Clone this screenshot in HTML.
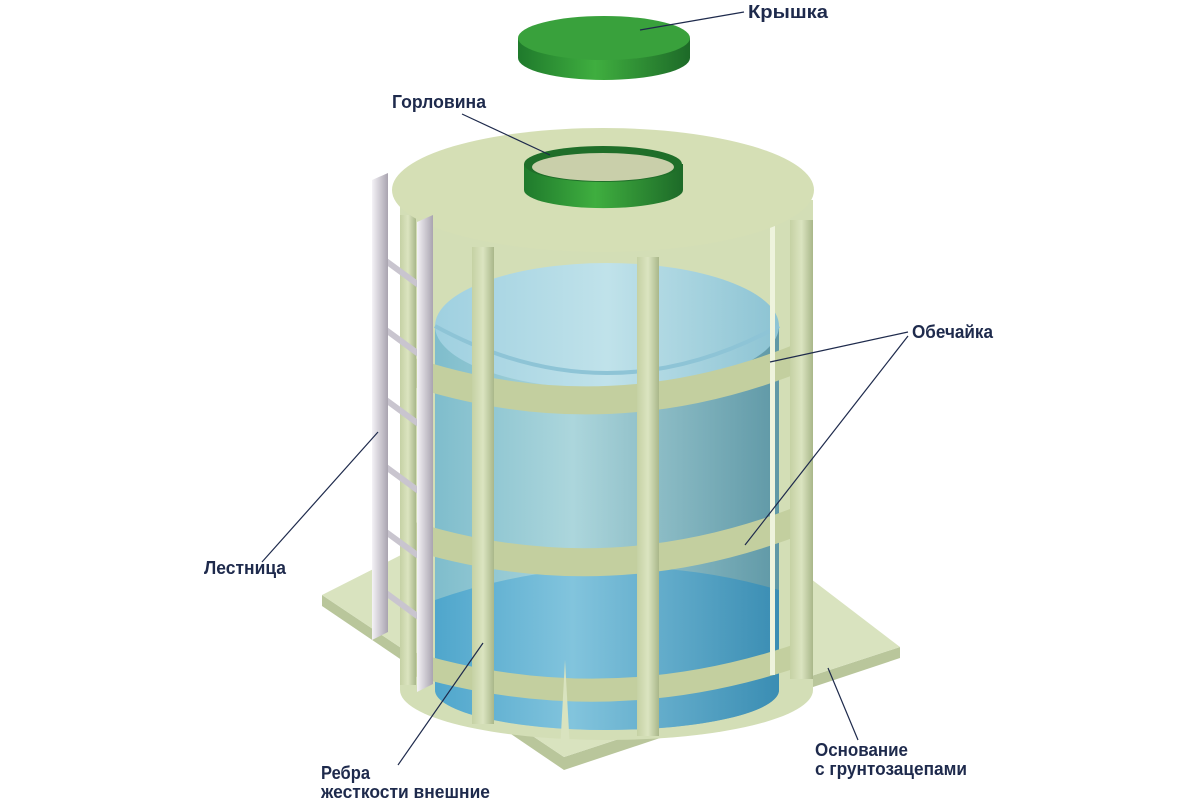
<!DOCTYPE html>
<html><head><meta charset="utf-8"><style>
html,body{margin:0;padding:0;background:#fff}
svg{display:block}
text{font-family:"Liberation Sans",sans-serif;font-size:18px;font-weight:bold;fill:#1e2a4c}
</style></head><body>
<svg width="1200" height="800" viewBox="0 0 1200 800" xmlns="http://www.w3.org/2000/svg">
<defs>
<linearGradient id="w1" x1="0" x2="1"><stop offset="0" stop-color="#7fbdcc"/><stop offset=".4" stop-color="#acd6dc"/><stop offset="1" stop-color="#5f98a6"/></linearGradient>
<linearGradient id="w2" x1="0" x2="1"><stop offset="0" stop-color="#4fa6cc"/><stop offset=".4" stop-color="#82c4dd"/><stop offset="1" stop-color="#3a8db3"/></linearGradient>
<linearGradient id="wt" x1="0" x2="1"><stop offset="0" stop-color="#9fd0e0"/><stop offset=".5" stop-color="#c0e2ea"/><stop offset="1" stop-color="#8cc3d3"/></linearGradient>
<linearGradient id="g1" x1="0" x2="1"><stop offset="0" stop-color="#1f7a2c"/><stop offset=".45" stop-color="#3fae3f"/><stop offset="1" stop-color="#1d6a28"/></linearGradient>
<linearGradient id="rail" x1="0" x2="1"><stop offset="0" stop-color="#f4f2f6"/><stop offset="1" stop-color="#a9a4b0"/></linearGradient>
<linearGradient id="rib" x1="0" x2="1"><stop offset="0" stop-color="#c5d1a4"/><stop offset=".5" stop-color="#dbe4c0"/><stop offset="1" stop-color="#a9b78a"/></linearGradient>
<clipPath id="sh"><path d="M400,200 L400,690 A206.5,50 0 0 0 813,690 L813,200Z"/></clipPath>
<clipPath id="wc"><path d="M435,326 L435,690 A172,40 0 0 0 779,690 L779,326Z"/></clipPath>
</defs>
<polygon points="322,595 564,757 900,647 900,658 564,770 322,606" fill="#b9c69b"/>
<polygon points="322,595 470,520 760,540 900,647 564,757" fill="#d9e3bf"/>
<path d="M400,200 L400,690 A206.5,50 0 0 0 813,690 L813,200Z" fill="#d3deb6"/>
<g clip-path="url(#wc)">
<rect x="435" y="300" width="344" height="440" fill="url(#w1)"/>
<path d="M435,600 Q607,540 779,590 L779,760 L435,760Z" fill="url(#w2)"/>
</g>
<ellipse cx="607" cy="326" rx="172" ry="63" fill="url(#wt)"/>
<path d="M435,326 Q607,420 779,326" fill="none" stroke="#8ec4d6" stroke-width="4"/>
<g clip-path="url(#sh)">
<path d="M400,368 Q607,440 813,352" fill="none" stroke="#c3cf9f" stroke-width="28"/>
<path d="M400,532 Q607,600 813,515" fill="none" stroke="#c3cf9f" stroke-width="28"/>
<path d="M400,660 Q607,725 813,650" fill="none" stroke="#c3cf9f" stroke-width="23"/>
</g>
<rect x="400" y="215" width="16" height="470" fill="url(#rib)"/>
<rect x="770" y="225" width="5" height="450" fill="#eef3dd"/>
<rect x="790" y="220" width="23" height="459" fill="url(#rib)"/>
<rect x="472" y="247" width="22" height="477" fill="url(#rib)"/>
<rect x="637" y="257" width="22" height="479" fill="url(#rib)"/>
<path d="M565,660 L570,750 L560,752Z" fill="#d9e3bf"/>
<ellipse cx="603" cy="190" rx="211" ry="62" fill="#d5dfb5"/>
<path d="M524,164 L524,190 A79,18 0 0 0 683,190 L683,164Z" fill="url(#g1)"/>
<ellipse cx="603" cy="164" rx="79" ry="18" fill="#1f6e29"/>
<ellipse cx="603" cy="167" rx="71" ry="14" fill="#c9cfaa"/>
<path d="M518,38 L518,58 A86,22 0 0 0 690,58 L690,38Z" fill="url(#g1)"/>
<ellipse cx="604" cy="38" rx="86" ry="22" fill="#39a13c"/>
<g stroke="#c9c5cf" stroke-width="6" stroke-linecap="round">
<line x1="386" y1="261" x2="420" y2="286"/><line x1="386" y1="330" x2="420" y2="355"/>
<line x1="386" y1="400" x2="420" y2="425"/><line x1="386" y1="467" x2="420" y2="492"/>
<line x1="386" y1="532" x2="420" y2="557"/><line x1="386" y1="593" x2="420" y2="618"/>
</g>
<polygon points="372,180 388,173 388,632 372,640" fill="url(#rail)"/>
<polygon points="417,222 433,215 433,684 417,692" fill="url(#rail)"/>
<g stroke="#1e2a4c" stroke-width="1.2">
<line x1="744" y1="12" x2="640" y2="30"/>
<line x1="462" y1="114" x2="550" y2="155"/>
<line x1="908" y1="332" x2="770" y2="362"/>
<line x1="908" y1="336" x2="745" y2="545"/>
<line x1="262" y1="562" x2="378" y2="432"/>
<line x1="398" y1="765" x2="483" y2="643"/>
<line x1="858" y1="740" x2="828" y2="668"/>
</g>
<g lengthAdjust="spacingAndGlyphs">
<text x="748" y="18" textLength="80" lengthAdjust="spacingAndGlyphs">Крышка</text>
<text x="392" y="108" textLength="94" lengthAdjust="spacingAndGlyphs">Горловина</text>
<text x="912" y="338" textLength="81" lengthAdjust="spacingAndGlyphs">Обечайка</text>
<text x="204" y="574" textLength="82" lengthAdjust="spacingAndGlyphs">Лестница</text>
<text x="321" y="779" textLength="49" lengthAdjust="spacingAndGlyphs">Ребра</text>
<text x="321" y="798" textLength="169" lengthAdjust="spacingAndGlyphs">жесткости внешние</text>
<text x="815" y="756" textLength="93" lengthAdjust="spacingAndGlyphs">Основание</text>
<text x="815" y="775" textLength="152" lengthAdjust="spacingAndGlyphs">с грунтозацепами</text>
</g>
</svg>
</body></html>
